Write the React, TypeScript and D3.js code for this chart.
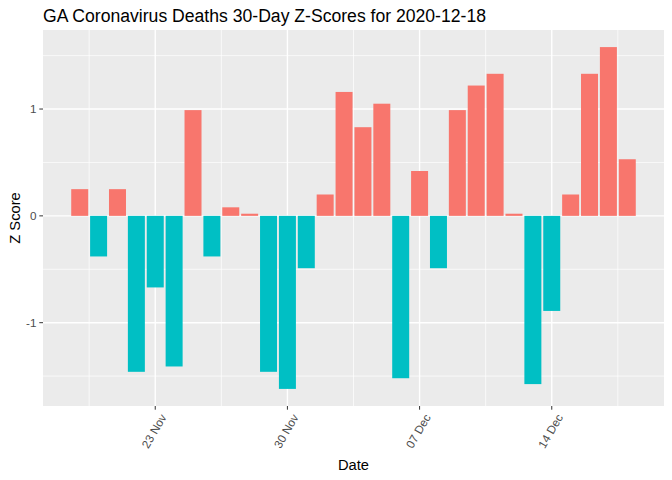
import React from "react";
import * as d3 from "d3";

const startDate = "2020-11-19";
const zScores = [
  0.25, -0.38, 0.25, -1.46, -0.67, -1.41, 0.99, -0.38, 0.08, 0.02,
  -1.46, -1.62, -0.49, 0.2, 1.16, 0.83, 1.05, -1.52, 0.42, -0.49,
  0.99, 1.22, 1.33, 0.02, -1.575, -0.89, 0.2, 1.33, 1.58, 0.53,
];
const xTickDates = ["2020-11-23", "2020-11-30", "2020-12-07", "2020-12-14"];
const xTickLabels = ["23 Nov", "30 Nov", "07 Dec", "14 Dec"];
const xMinorDates = ["2020-11-19T12:00", "2020-11-26T12:00", "2020-12-03T12:00", "2020-12-10T12:00", "2020-12-17T12:00"];
const yTicks = [-1, 0, 1];
const yMinor = [-1.5, -0.5, 0.5, 1.5];
const titleText = "GA Coronavirus Deaths 30-Day Z-Scores for 2020-12-18";

const DAY = 86400000;
const parse = (s: string) => new Date(s + (s.includes("T") ? ":00Z" : "T00:00:00Z"));

export default function App() {
  const W = 672, H = 480;
  const left = 43, right = 664, top = 30, bottom = 406;
  const start = parse(startDate).getTime();
  const data = zScores.map((v, i) => ({ date: new Date(start + i * DAY), v }));

  const xMin = start - 0.45 * DAY;
  const xMax = start + (zScores.length - 1) * DAY + 0.45 * DAY;
  const xPad = (xMax - xMin) * 0.05;
  const x = d3.scaleUtc().domain([xMin - xPad, xMax + xPad]).range([left, right]);

  const yLo = Math.min(0, d3.min(zScores)!);
  const yHi = Math.max(0, d3.max(zScores)!);
  const yPad = (yHi - yLo) * 0.05;
  const y = d3.scaleLinear().domain([yLo - yPad, yHi + yPad]).range([bottom, top]);

  const bw = x(start + 0.9 * DAY) - x(start);
  const font = "'Liberation Sans', Arial, sans-serif";

  return (
    <svg width={W} height={H} style={{ display: "block", position: "absolute", left: 0, top: 0 }} fontFamily={font}>
      <rect x={0} y={0} width={W} height={H} fill="#ffffff" />
      <rect x={left} y={top} width={right - left} height={bottom - top} fill="#EBEBEB" />
      {yMinor.filter((t) => y(t) >= top && y(t) <= bottom).map((t) => (
        <line key={"ym" + t} x1={left} x2={right} y1={y(t)} y2={y(t)} stroke="#fff" strokeWidth={0.7} />
      ))}
      {xMinorDates.map((d) => (
        <line key={"xm" + d} x1={x(parse(d))} x2={x(parse(d))} y1={top} y2={bottom} stroke="#fff" strokeWidth={0.7} />
      ))}
      {yTicks.map((t) => (
        <line key={"yM" + t} x1={left} x2={right} y1={y(t)} y2={y(t)} stroke="#fff" strokeWidth={1.4} />
      ))}
      {xTickDates.map((d) => (
        <line key={"xM" + d} x1={x(parse(d))} x2={x(parse(d))} y1={top} y2={bottom} stroke="#fff" strokeWidth={1.4} />
      ))}
      {data.map((d, i) => (
        <rect
          key={i}
          x={x(d.date.getTime() - 0.45 * DAY)}
          width={bw}
          y={y(Math.max(0, d.v))}
          height={Math.abs(y(d.v) - y(0))}
          fill={d.v >= 0 ? "#F8766D" : "#00BFC4"}
        />
      ))}
      {yTicks.map((t) => (
        <g key={"yt" + t}>
          <line x1={left - 3.7} x2={left} y1={y(t)} y2={y(t)} stroke="#333333" strokeWidth={1} />
          <text x={left - 6.5} y={y(t)} dy="0.35em" textAnchor="end" fontSize={11.7} fill="#4D4D4D">
            {t}
          </text>
        </g>
      ))}
      {xTickDates.map((d, i) => {
        const px = x(parse(d));
        return (
          <g key={"xt" + d}>
            <line x1={px} x2={px} y1={bottom} y2={bottom + 3.7} stroke="#333333" strokeWidth={1} />
            <text
              transform={`translate(${px + 8},${bottom + 9}) rotate(-60)`}
              dy="0.35em"
              textAnchor="end"
              fontSize={11.7}
              fill="#4D4D4D"
            >
              {xTickLabels[i]}
            </text>
          </g>
        );
      })}
      <text x={(left + right) / 2} y={470} textAnchor="middle" fontSize={14.7} fill="#000">
        Date
      </text>
      <text transform={`translate(20,${(top + bottom) / 2}) rotate(-90)`} textAnchor="middle" fontSize={14.7} fill="#000">
        Z Score
      </text>
      <text x={left} y={22} fontSize={17.6} fill="#000">
        {titleText}
      </text>
    </svg>
  );
}
